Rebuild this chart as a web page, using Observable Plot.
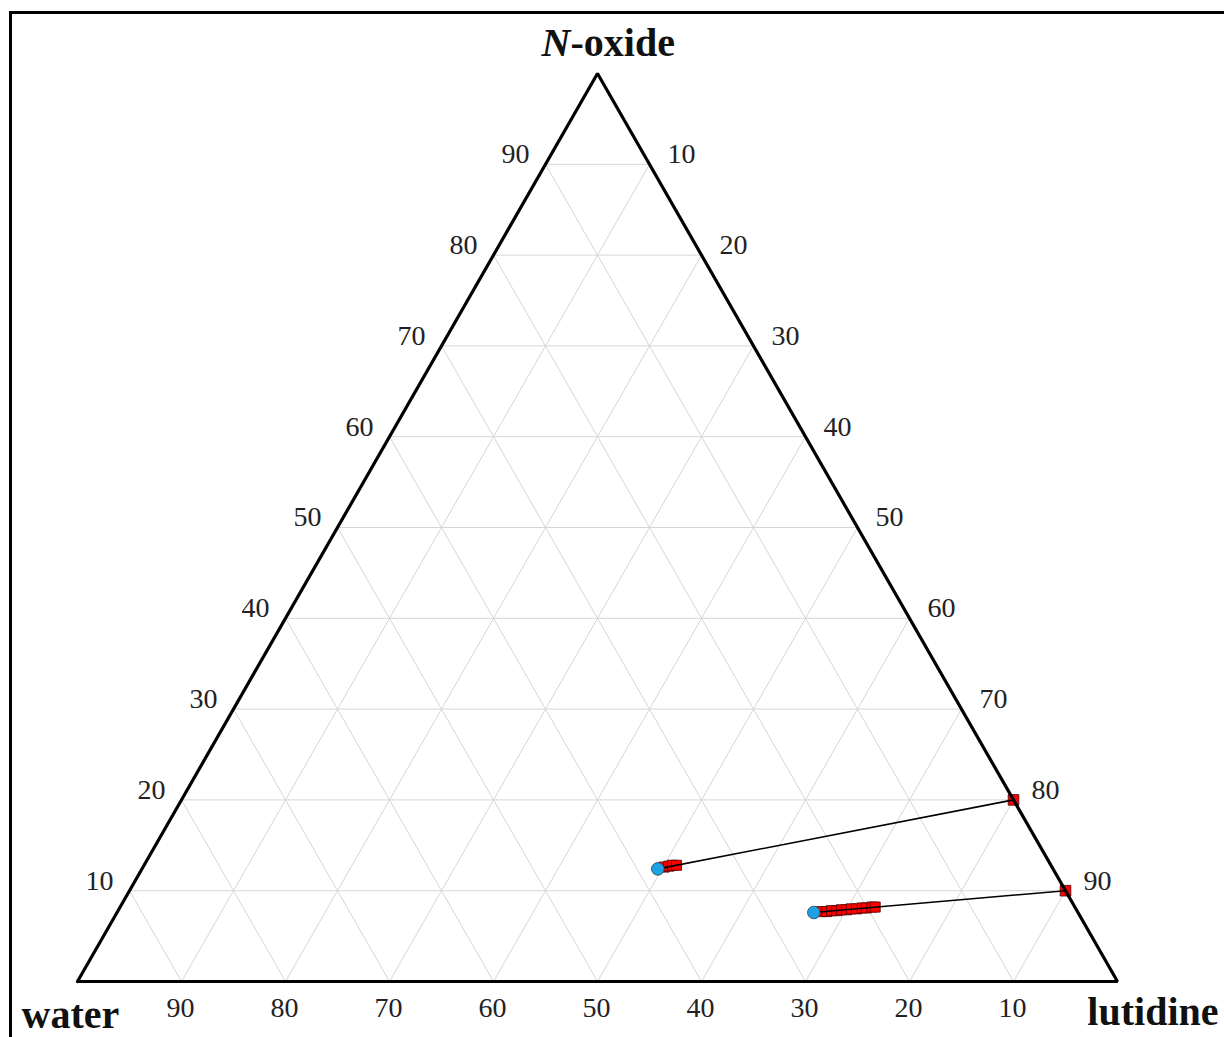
<!DOCTYPE html>
<html>
<head>
<meta charset="utf-8">
<script src="https://cdn.jsdelivr.net/npm/d3@7"></script>
<script src="https://cdn.jsdelivr.net/npm/@observablehq/plot@0.6"></script>
<style>
  html, body { margin: 0; padding: 0; background: #fff; overflow: hidden; }
  #wrap { position: relative; width: 1224px; height: 1037px; overflow: hidden; }
  #frame { position: absolute; left: 9px; top: 11px; width: 1300px; height: 1100px;
           border: 3px solid #000; box-sizing: border-box; pointer-events: none; }
  #chart { position: absolute; left: 0; top: 0; }
</style>
</head>
<body>
<div id="wrap"><div id="chart"></div><div id="frame"></div></div>
<script>
// Grid and tick values (wt%)
const ticks = [10, 20, 30, 40, 50, 60, 70, 80, 90];

// Tie lines: compositions in wt% (N-oxide, lutidine); water is the remainder
const edgeOxide = [20, 10];
const edgeLutidine = [80, 90];
const circleOxide = [12.4, 7.6];
const circleLutidine = [49.6, 67.0];

// Measured points along the first tie line
const squares1Oxide = [12.6, 12.7, 12.8, 12.8];
const squares1Lutidine = [50.1, 50.5, 50.8, 51.2];

// Measured points along the second tie line
const squares2Oxide = [7.7, 7.7, 7.8, 7.8, 7.9, 7.9, 8.0, 8.0, 8.1, 8.1, 8.2, 8.2];
const squares2Lutidine = [67.7, 68.2, 68.6, 69.1, 69.5, 70.0, 70.4, 70.9, 71.4, 71.8, 72.3, 72.6];

// Ternary -> cartesian: water at bottom-left, lutidine at bottom-right, N-oxide on top
const proj = (n, l) => ({x: l + n / 2, y: n});

const outline = [proj(0, 0), proj(0, 100), proj(100, 0), proj(0, 0)];

const grid = [];
for (const k of ticks) {
  grid.push({x1: k / 2, y1: k, x2: 100 - k / 2, y2: k});             // constant N-oxide
  grid.push({x1: k, y1: 0, x2: k + (100 - k) / 2, y2: 100 - k});     // constant lutidine
  grid.push({x1: 100 - k, y1: 0, x2: (100 - k) / 2, y2: 100 - k});   // constant water
}

const ties = edgeOxide.map((n, i) => {
  const a = proj(circleOxide[i], circleLutidine[i]);
  const b = proj(n, edgeLutidine[i]);
  return {x1: a.x, y1: a.y, x2: b.x, y2: b.y};
});
const edgePts = edgeOxide.map((n, i) => proj(n, edgeLutidine[i]));
const circlePts = circleOxide.map((n, i) => proj(n, circleLutidine[i]));
const squarePts = [
  ...squares1Oxide.map((n, i) => proj(n, squares1Lutidine[i])),
  ...squares2Oxide.map((n, i) => proj(n, squares2Lutidine[i]))
];

const leftTicks = ticks.map(k => ({...proj(k, 0), label: String(k)}));
const rightTicks = ticks.map(k => ({...proj(100 - k, k), label: String(k)}));
const bottomTicks = ticks.map(k => ({...proj(0, 100 - k), label: String(k)}));

const serif = "'Liberation Serif', 'Times New Roman', serif";
const tickStyle = {text: "label", fontFamily: serif, fontSize: 28, fill: "#222"};
const nameStyle = {fontFamily: serif, fontSize: 40, fontWeight: "bold", fill: "#111"};

const chart = Plot.plot({
  width: 1224,
  height: 1037,
  marginLeft: 77,
  marginRight: 107,
  marginTop: 73,
  marginBottom: 56,
  x: {domain: [0, 100], axis: null},
  y: {domain: [0, 100], axis: null},
  style: {background: "transparent"},
  marks: [
    Plot.link(grid, {x1: "x1", y1: "y1", x2: "x2", y2: "y2", stroke: "#d6d6d6", strokeWidth: 1}),
    Plot.dot(squarePts, {x: "x", y: "y", symbol: "square", r: 5.7, fill: "#ff0000", stroke: "#4a0000", strokeWidth: 0.8}),
    Plot.dot(edgePts, {x: "x", y: "y", symbol: "square", r: 6, fill: "#ff0000", stroke: "#4a0000", strokeWidth: 0.8}),
    Plot.link(ties, {x1: "x1", y1: "y1", x2: "x2", y2: "y2", stroke: "#000", strokeWidth: 1.6}),
    Plot.dot(circlePts, {x: "x", y: "y", r: 6.3, fill: "#1ea2e6", stroke: "#2a3a4a", strokeWidth: 0.8}),
    Plot.line(outline, {x: "x", y: "y", stroke: "#000", strokeWidth: 3.2, strokeLinejoin: "miter"}),
    Plot.text(leftTicks, {x: "x", y: "y", ...tickStyle, dx: -30, dy: -10}),
    Plot.text(rightTicks, {x: "x", y: "y", ...tickStyle, dx: 32, dy: -10}),
    Plot.text(bottomTicks, {x: "x", y: "y", ...tickStyle, dx: -1, dy: 27}),
    // Vertex names
    Plot.text([proj(100, 0)], {x: "x", y: "y", text: () => "N", ...nameStyle, fontStyle: "italic",
      textAnchor: "end", dx: -27, dy: -30}),
    Plot.text([proj(100, 0)], {x: "x", y: "y", text: () => "-oxide", ...nameStyle,
      textAnchor: "start", dx: -27, dy: -30}),
    Plot.text([proj(0, 0)], {x: "x", y: "y", text: () => "water", ...nameStyle,
      textAnchor: "start", dx: -56, dy: 34}),
    Plot.text([proj(0, 100)], {x: "x", y: "y", text: () => "lutidine", ...nameStyle,
      textAnchor: "end", dx: 101, dy: 31})
  ]
});
document.getElementById("chart").append(chart);
</script>
</body>
</html>
